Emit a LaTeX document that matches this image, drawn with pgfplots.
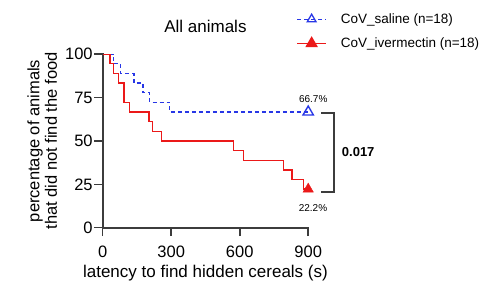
\documentclass[border=0pt]{standalone}
\usepackage{fontspec}
\setmainfont{Liberation Sans}
\usepackage{pgfplots}
\pgfplotsset{compat=1.18}
\definecolor{cblue}{RGB}{40,55,230}
\definecolor{cred}{RGB}{235,25,25}
\definecolor{axgray}{RGB}{60,60,60}
\begin{document}
\begin{tikzpicture}
\begin{axis}[
  scale only axis, width=205.5pt, height=173.5pt,
  xmin=0, xmax=900, ymin=0, ymax=100,
  axis lines*=left,
  clip=false,
  xtick={0,300,600,900}, ytick={0,25,50,75,100},
  tick align=outside, major tick length=8.5pt,
  every tick/.style={line width=1.6pt, axgray},
  axis line style={line width=1.8pt, axgray, line cap=rect},
  /pgf/number format/assume math mode=true,
  ticklabel style={font=\fontsize{16.5}{18}\selectfont},
  xticklabel style={yshift=-6pt},
  yticklabel style={xshift=2pt},
  xlabel={latency to find hidden cereals (s)},
  ylabel={percentage of animals\\that did not find the food},
  xlabel style={font=\fontsize{17}{19}\selectfont, at={(axis description cs:0.5,-0.288)}, anchor=base},
  ylabel style={font=\fontsize{16.5}{17.5}\selectfont, align=center, at={(axis description cs:-0.294,0.5)}, anchor=center},
  title={All animals},
  every axis title/.style={font=\fontsize{17}{19}\selectfont, at={(axis description cs:0.5,1.126)}, anchor=base},
  legend style={at={(axis description cs:0.942,1.247)}, anchor=north west, draw=none, fill=none,
    font=\fontsize{13.5}{15}\selectfont, row sep=9pt, inner sep=0pt,
    nodes={inner sep=2pt},
    /tikz/every odd column/.append style={column sep=12pt}},
  legend cell align=left,
  legend image code/.code={\draw[mark repeat=2,mark phase=2] plot coordinates {(0pt,0pt) (14.5pt,0pt) (29pt,0pt)};},
]
\addlegendimage{cblue, line width=1.2pt, dash pattern=on 4pt off 3pt, mark=triangle, mark size=5pt, mark options={solid, line width=1.3pt}}
\addlegendentry{CoV\_saline (n=18)}
\addlegendimage{cred, line width=1.3pt, mark=triangle*, mark size=6pt, mark options={solid}}
\addlegendentry{CoV\_ivermectin (n=18)}

% saline step curve
\addplot[forget plot, const plot, cblue, line width=1.3pt, dash pattern=on 4pt off 3pt] coordinates {
(0,100) (47,94.44) (79,88.89) (137,83.33) (177,77.78) (206,72.22) (294,66.67) (900,66.67)};
% ivermectin step curve
\addplot[forget plot, const plot, cred, line width=1.3pt] coordinates {
(0,100) (32,94.44) (48,88.89) (70,83.33) (93,72.22) (118,66.67) (203,61.11) (218,55.56)
(259,50) (573,44.44) (617,38.89) (792,33.33) (829,27.78) (880,22.22) (900,22.22)};
% end markers
\addplot[forget plot, only marks, cblue, mark=triangle, mark size=6pt, mark options={line width=1.4pt}] coordinates {(900,66.67)};
\addplot[forget plot, only marks, cred, mark=triangle*, mark size=6pt] coordinates {(900,22.22)};

% annotations
\node[font=\fontsize{10}{12}\selectfont] at (axis cs:922,74.1) {66.7\%};
\node[font=\fontsize{10}{12}\selectfont] at (axis cs:921,11.4) {22.2\%};
\draw[axgray, line width=1.6pt] (axis cs:957,66.0) -- (axis cs:1012,66.0) -- (axis cs:1012,20.6) -- (axis cs:957,20.6);
\node[font=\fontsize{13}{15}\selectfont\bfseries] at (axis cs:1119,43.9) {0.017};
\end{axis}
\pgfresetboundingbox
\useasboundingbox (-102.7pt,-60.3pt) rectangle (376.3pt,227.7pt);
\end{tikzpicture}
\end{document}
